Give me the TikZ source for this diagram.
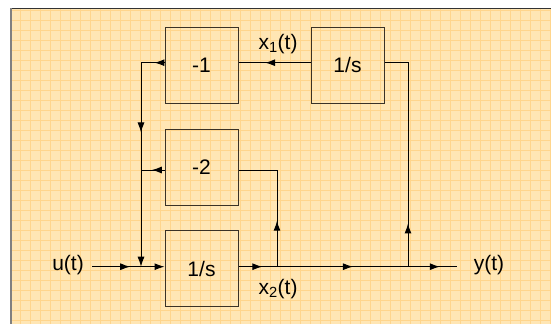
\documentclass[tikz,border=0pt]{standalone}
\usepackage{fontspec}
\setmainfont{Liberation Sans}
\usetikzlibrary{arrows.meta}
\usetikzlibrary{decorations.markings}
\definecolor{paper}{HTML}{FFE6B4}
\definecolor{paperline}{HTML}{FFD58C}
\definecolor{boxline}{HTML}{3A3226}

\begin{document}
\begin{tikzpicture}[
x=1pt, y=-1pt,
block/.style={rectangle, draw=boxline, line width=1pt, minimum width=73pt, minimum height=76pt, inner sep=0pt},
lbl/.style={inner sep=0pt},
every node/.style={font=\fontsize{21}{24}\selectfont},
sig/.style={line width=1pt, >={Latex[length=10pt,width=7pt]}},
midarrow/.style={decoration={markings, mark=at position #1 with {\arrow{Latex[length=10pt,width=7pt]}}}, postaction={decorate}},
twoarrows/.style 2 args={decoration={markings,
  mark=at position #1 with {\arrow{Latex[length=10pt,width=7pt]}},
  mark=at position #2 with {\arrow{Latex[length=10pt,width=7pt]}}}, postaction={decorate}}
]

% paper
\useasboundingbox (0,0) rectangle (551,324);
\fill[paper] (10,8) rectangle (551,324);
\draw[paperline, line width=0.5pt, step=10pt] (10,8) grid (551,324);
\draw[black!80, line width=0.8pt] (10,8) -- (551,8);
\draw[black!50, line width=2pt] (11,8) -- (11,324);

% blocks
\node[block] (m1) at (201.5,65) {-1};
\node[block] (intt) at (347.5,65) {1/s};
\node[block] (m2) at (201.5,167) {-2};
\node[block] (intb) at (201.5,268.5) {1/s};

% branch points
\coordinate (uin) at (92,266.7);
\coordinate (sum) at (141,266.7);
\coordinate (x2) at (277,266.7);
\coordinate (yb) at (408,266.7);
\coordinate (yend) at (457,266.7);
\coordinate (s1) at (141,62.7);
\coordinate (s2) at (141,170);

% labels
\node[lbl] (u) at (68,265) {u(t)};
\node[lbl] (y) at (489,265) {y(t)};
\node[lbl] (x1) at (278,44) {x\textsubscript{1}(t)};
\node[lbl] (x2l) at (278,289) {x\textsubscript{2}(t)};

% signals
\draw[sig, midarrow=0.78] (uin) -- (sum);
\draw[sig, ->] (sum) -- (intb.west |- sum);
\draw[sig, midarrow=0.62] (intb.east |- x2) -- (x2);
\draw[sig, midarrow=0.58] (x2) -- (yb);
\draw[sig, midarrow=0.65] (yb) -- (yend);

\draw[sig, midarrow=0.34] (x2) |- (m2.east |- s2);
\draw[sig, midarrow=0.19] (yb) |- (intt.east |- s1);
\draw[sig, midarrow=0.63] (intt.west |- s1) -- (m1.east |- s1);

\draw[sig, twoarrows={0.044}{0.41}, ->] (m1.west |- s1) -- (s1) -- (sum);
\draw[sig, midarrow=0.54] (m2.west |- s2) -- (s2);

\end{tikzpicture}
\end{document}
